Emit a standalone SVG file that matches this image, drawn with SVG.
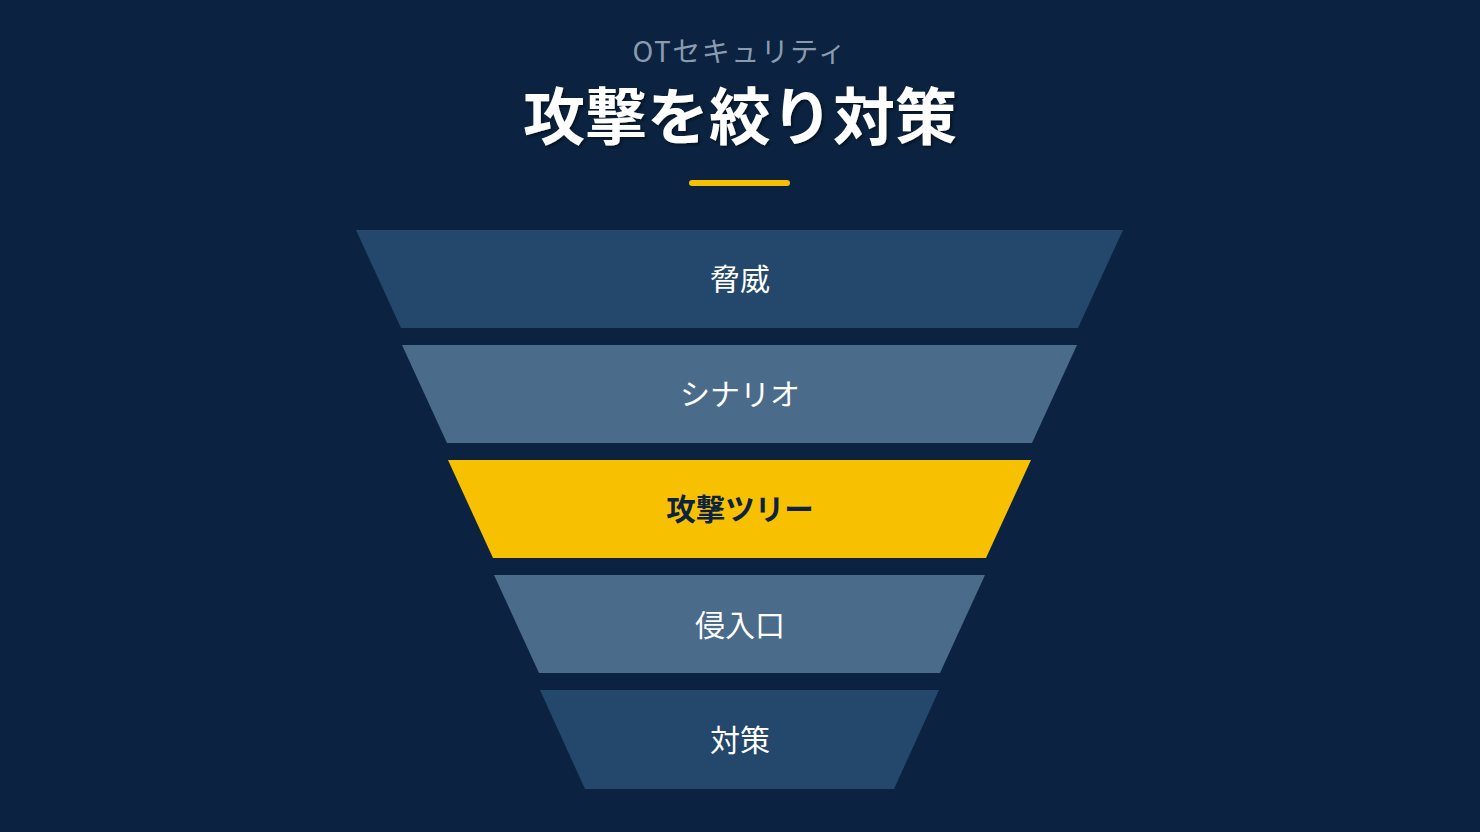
<svg xmlns="http://www.w3.org/2000/svg" width="1480" height="832" viewBox="0 0 1480 832">
<defs>
<style>
.t{font-family:"Noto Sans CJK JP","Noto Sans",sans-serif;text-anchor:middle}
.lbl{font-size:30px;fill:#ffffff}
.dark{fill:#24486b}
.mid{fill:#4a6b8a}
.hi{fill:#f7c000}
</style>
<filter id="sh" x="-10%" y="-10%" width="120%" height="130%">
<feDropShadow dx="2" dy="2" stdDeviation="1.5" flood-color="#000" flood-opacity="0.45"/>
</filter>
</defs>
<rect width="1480" height="832" fill="#0b2340"/>
<g id="header">
<text class="t" x="740" y="62" font-size="28" letter-spacing="1.5" fill="#8a9bb0">OTセキュリティ</text>
<text class="t" x="740" y="140" font-size="62" font-weight="bold" fill="#ffffff" filter="url(#sh)">攻撃を絞り対策</text>
<rect x="689" y="180" width="101" height="6" rx="3" fill="#f7c000"/>
</g>
<g id="layer1">
<polygon class="dark" points="356,230 1123,230 1078,328 401,328"/>
<text class="t lbl" x="740" y="290">脅威</text>
</g>
<g id="layer2">
<polygon class="mid" points="402,345 1077,345 1032,443 447,443"/>
<text class="t lbl" x="740" y="405">シナリオ</text>
</g>
<g id="layer3">
<polygon class="hi" points="448,460 1031,460 986,558 493,558"/>
<text class="t" x="740" y="520" font-size="29.5" font-weight="bold" fill="#0b2340">攻撃ツリー</text>
</g>
<g id="layer4">
<polygon class="mid" points="494,575 985,575 940,673 539,673"/>
<text class="t lbl" x="740" y="636">侵入口</text>
</g>
<g id="layer5">
<polygon class="dark" points="540,690 939,690 894,789 585,789"/>
<text class="t lbl" x="740" y="751">対策</text>
</g>
<g id="connectors"/>
</svg>
